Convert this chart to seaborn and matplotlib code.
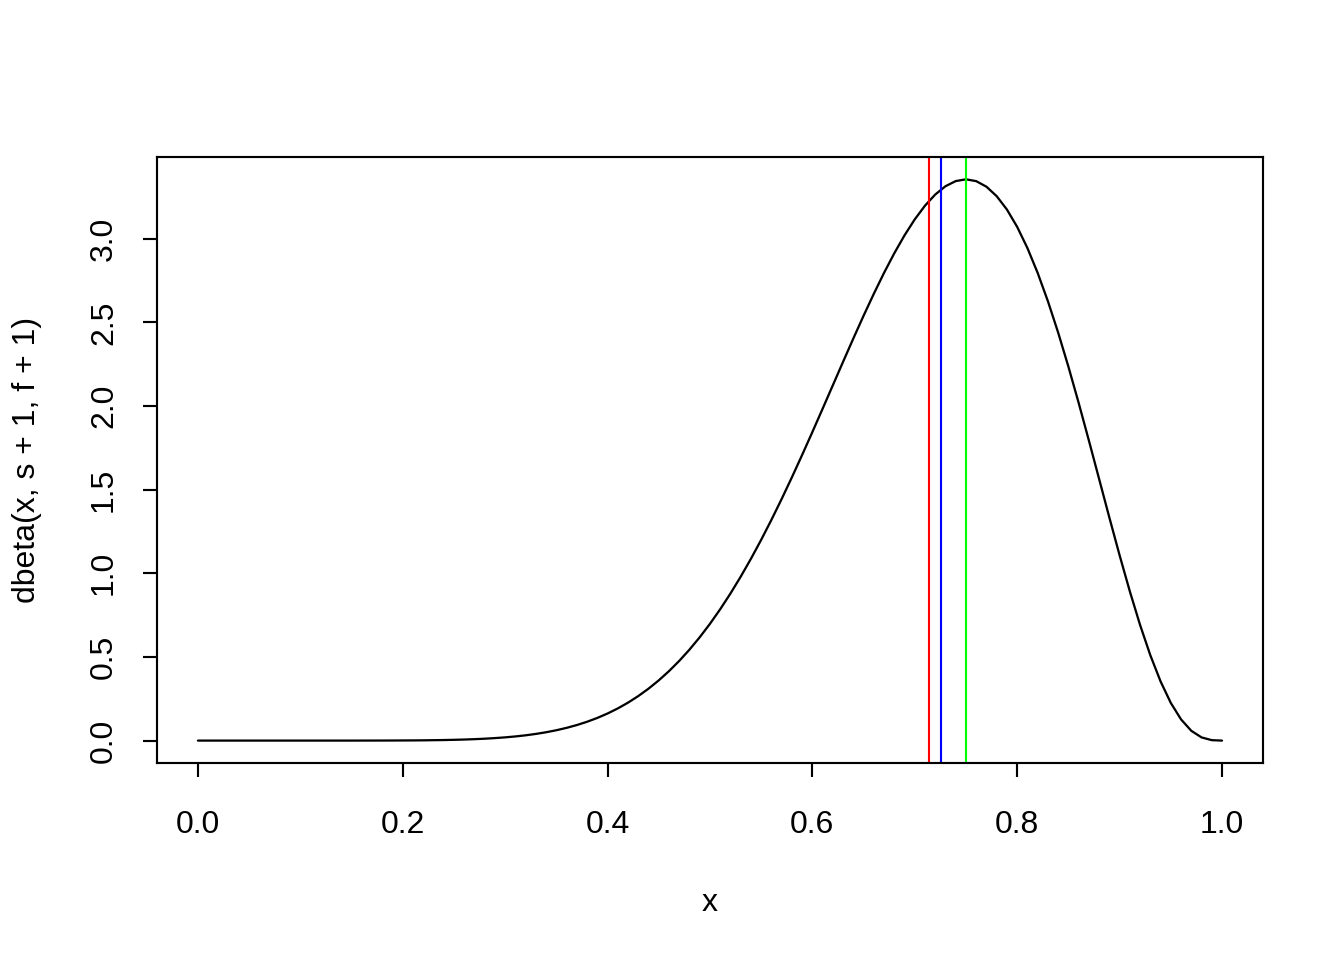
import matplotlib
matplotlib.use('Agg')
import matplotlib.pyplot as plt
import seaborn as sns
import pandas as pd

# Curve values (density, step 0.01 like R's curve())
x_vals = [0.00, 0.01, 0.02, 0.03, 0.04, 0.05, 0.06, 0.07, 0.08, 0.09,
          0.10, 0.11, 0.12, 0.13, 0.14, 0.15, 0.16, 0.17, 0.18, 0.19,
          0.20, 0.21, 0.22, 0.23, 0.24, 0.25, 0.26, 0.27, 0.28, 0.29,
          0.30, 0.31, 0.32, 0.33, 0.34, 0.35, 0.36, 0.37, 0.38, 0.39,
          0.40, 0.41, 0.42, 0.43, 0.44, 0.45, 0.46, 0.47, 0.48, 0.49,
          0.50, 0.51, 0.52, 0.53, 0.54, 0.55, 0.56, 0.57, 0.58, 0.59,
          0.60, 0.61, 0.62, 0.63, 0.64, 0.65, 0.66, 0.67, 0.68, 0.69,
          0.70, 0.71, 0.72, 0.73, 0.74, 0.75, 0.76, 0.77, 0.78, 0.79,
          0.80, 0.81, 0.82, 0.83, 0.84, 0.85, 0.86, 0.87, 0.88, 0.89,
          0.90, 0.91, 0.92, 0.93, 0.94, 0.95, 0.96, 0.97, 0.98, 0.99, 1.00]
dens = [0.0, 0.0, 0.0, 0.0, 0.0, 0.0, 0.0, 0.0, 0.0, 0.0,
        0.0, 0.0, 0.0, 0.0, 0.0, 0.0, 0.0001, 0.0002, 0.0003, 0.0005,
        0.0008, 0.0011, 0.0016, 0.0024, 0.0033, 0.0046, 0.0063, 0.0085, 0.0113, 0.0149,
        0.0193, 0.0248, 0.0316, 0.0399, 0.0499, 0.0619, 0.0761, 0.0929, 0.1126, 0.1355,
        0.1619, 0.1923, 0.2269, 0.2662, 0.3105, 0.3601, 0.4153, 0.4765, 0.5439, 0.6178,
        0.6982, 0.7854, 0.8793, 0.9798, 1.0869, 1.2002, 1.3195, 1.4443, 1.5739, 1.7076,
        1.8446, 1.9839, 2.1244, 2.2648, 2.4038, 2.5398, 2.6711, 2.7963, 2.9134, 3.0206,
        3.1161, 3.1981, 3.2646, 3.3141, 3.3448, 3.3553, 3.3444, 3.3111, 3.2545, 3.1745,
        3.0709, 2.9444, 2.7958, 2.6267, 2.4392, 2.2357, 2.0195, 1.7942, 1.5641, 1.3337,
        1.1080, 0.8922, 0.6914, 0.5105, 0.3540, 0.2253, 0.1268, 0.0587, 0.0191, 0.0026, 0.0]

# vertical markers: mean, median, mode
v_lines = [0.7143, 0.7256, 0.75]
v_colors = ["red", "blue", "#00FF00"]

df = pd.DataFrame({"x": x_vals, "y": dens})

sns.set_style("white")
plt.rcParams['font.family'] = ['Liberation Sans', 'DejaVu Sans']
plt.rcParams.update({'text.color': 'black', 'axes.labelcolor': 'black',
                     'xtick.color': 'black', 'ytick.color': 'black'})

fig = plt.figure(figsize=(7, 5), dpi=192)
ax = fig.add_axes([0.1168, 0.2052, 0.8229, 0.6313])

sns.lineplot(data=df, x="x", y="y", ax=ax, color="black", linewidth=0.85)
for v, c in zip(v_lines, v_colors):
    ax.axvline(v, color=c, linewidth=0.8)

ax.set_xlim(-0.04, 1.04)
ax.set_ylim(-0.134, 3.489)
ax.set_xticks([0.0, 0.2, 0.4, 0.6, 0.8, 1.0])
ax.set_xticklabels(["0.0", "0.2", "0.4", "0.6", "0.8", "1.0"])
ax.set_yticks([0.0, 0.5, 1.0, 1.5, 2.0, 2.5, 3.0])
ax.set_yticklabels(["0.0", "0.5", "1.0", "1.5", "2.0", "2.5", "3.0"],
                   rotation=90, va="center")

for s in ax.spines.values():
    s.set_visible(True)
    s.set_color("black")
    s.set_linewidth(0.8)

ax.tick_params(axis="both", direction="out", length=5.2, width=0.8,
               labelsize=12, bottom=True, left=True)
ax.tick_params(axis="x", pad=12.5)
ax.tick_params(axis="y", pad=9)
ax.set_xlabel("x", fontsize=12, labelpad=18)
ax.set_ylabel("dbeta(x, s + 1, f + 1)", fontsize=12, labelpad=17.5)

fig.savefig("out.png", dpi=192)
plt.close()
